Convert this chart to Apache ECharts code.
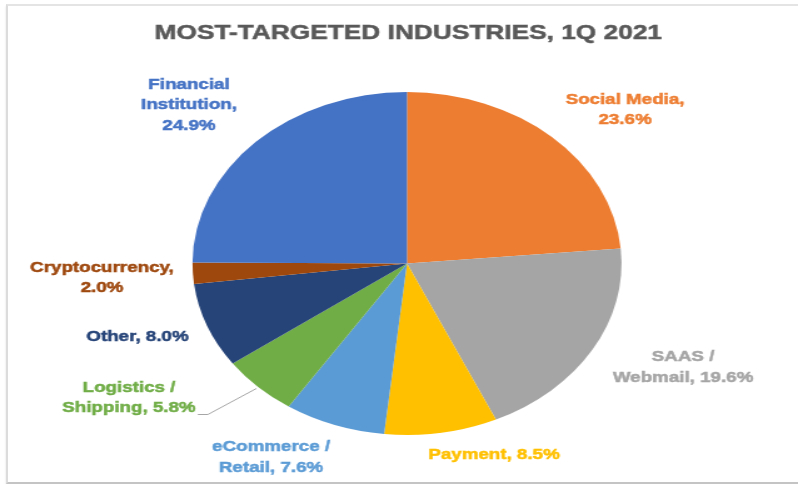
<!DOCTYPE html>
<html>
<head>
<meta charset="utf-8">
<script src="https://cdn.jsdelivr.net/npm/echarts@6/dist/echarts.min.js"></script>
<style>
  html, body { margin: 0; padding: 0; background: #ffffff; }
  #frame {
    position: absolute; left: 6px; top: 4px; width: 820px; height: 476px;
    border-left: 2px solid #dcdcdc; border-top: 2px solid #e4e4e4; border-bottom: 2px solid #c4c4c4;
    box-shadow: 0 2px 2px rgba(0,0,0,0.12);
  }
  #wrap { position: absolute; left: 0; top: 0; width: 798px; height: 484px; overflow: hidden; }
  /* the chart is laid out narrower and stretched horizontally */
  #chart { position: absolute; left: 0; top: 0; width: 638px; height: 484px;
           transform: scaleX(1.2508); transform-origin: 0 0; }
</style>
</head>
<body>
<div id="wrap">
  <div id="frame"></div>
  <div id="chart"></div>
</div>
<script>
// Share of phishing targets by industry, first quarter 2021 (percent), clockwise from 12 o'clock
const categories = ['Social Media', 'SAAS /\nWebmail', 'Payment', 'eCommerce /\nRetail',
                    'Logistics /\nShipping', 'Other', 'Cryptocurrency', 'Financial\nInstitution'];
const shares = [23.6, 19.6, 8.5, 7.6, 5.8, 8.0, 2.0, 24.9];
const colors = ['#ED7D31', '#A5A5A5', '#FFC000', '#5B9BD5', '#70AD47', '#264478', '#9E480E', '#4472C4'];
// labels that put the percentage on its own line
const valueOnNewLine = ['Social Media', 'Cryptocurrency', 'Financial\nInstitution'];
// the one label drawn with a leader line
const leaderLabel = 'Logistics /\nShipping';
// label centre offsets from the pie centre, in layout pixels
const labelOffsets = [[174.3, -153.5], [220.7, 104], [69.6, 191.5], [-108.7, 194],
                      [-222.3, 134.5], [-215.5, 73.5], [-243.9, 14.5], [-174.3, -158.5]];

const CX = 325.4, CY = 263.5, R = 171.5;

// mid angle of each slice, clockwise from 12 o'clock, in radians
const total = shares.reduce((a, b) => a + b, 0);
const midAngles = [];
shares.reduce((acc, v) => { midAngles.push((acc + v / 2) / total * 2 * Math.PI); return acc + v; }, 0);

function leaderPoints(i, rect) {
  const a = midAngles[i];
  const p0 = [CX + (R + 2) * Math.sin(a), CY - (R + 2) * Math.cos(a)];
  const lx = CX + labelOffsets[i][0], ly = CY + labelOffsets[i][1];
  const p2 = [lx + rect.width / 2 + 1.5, ly + rect.height / 2 - 4];
  const p1 = [p2[0] + 8, p2[1]];
  return [p0, p1, p2];
}

const chart = echarts.init(document.getElementById('chart'), null, { renderer: 'canvas' });

chart.setOption({
  animation: false,
  title: {
    text: 'MOST-TARGETED INDUSTRIES, 1Q 2021',
    left: CX - 4,
    textAlign: 'center',
    top: 18,
    textStyle: { fontFamily: 'Liberation Sans', fontWeight: 'bold', fontSize: 21, color: '#595959',
                 textBorderColor: '#595959', textBorderWidth: 0.5 }
  },
  series: [{
    type: 'pie',
    center: [CX, CY],
    radius: R,
    startAngle: 90,
    clockwise: true,
    avoidLabelOverlap: false,
    emphasis: { disabled: true },
    itemStyle: { borderWidth: 0 },
    label: {
      show: true,
      position: 'outside',
      fontFamily: 'Liberation Sans',
      fontWeight: 'bold',
      fontSize: 15,
      lineHeight: 20.5,
      align: 'center',
      textBorderWidth: 0.5,
      formatter: p => p.name + ',' + (valueOnNewLine.includes(p.name) ? '\n' : ' ') + p.value.toFixed(1) + '%'
    },
    labelLine: { show: false, lineStyle: { color: '#A6A6A6', width: 1 } },
    labelLayout: p => {
      const i = p.dataIndex;
      const out = {
        x: CX + labelOffsets[i][0],
        y: CY + labelOffsets[i][1],
        align: 'center',
        verticalAlign: 'middle'
      };
      if (categories[i] === leaderLabel) out.labelLinePoints = leaderPoints(i, p.labelRect);
      return out;
    },
    data: categories.map((name, i) => ({
      name: name,
      value: shares[i],
      itemStyle: { color: colors[i] },
      label: { color: colors[i], textBorderColor: colors[i] },
      labelLine: { show: name === leaderLabel }
    }))
  }]
});
</script>
</body>
</html>
